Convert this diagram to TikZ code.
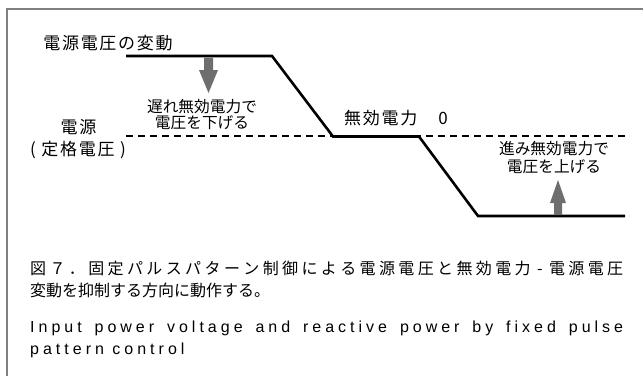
\documentclass[tikz,border=0pt]{standalone}
\usepackage{fontspec}
\setmainfont{Liberation Sans}
\newfontfamily\jp{Noto Sans CJK JP}
\newfontfamily\jpbig{Noto Sans CJK JP}[LetterSpace=10]
\newfontfamily\encap{Liberation Sans}[LetterSpace=25]
\definecolor{framegray}{RGB}{128,128,128}
\definecolor{arrowgray}{RGB}{110,110,110}
\makeatletter
\def\spreadjp#1{\spreadjp@a#1\@nil}
\def\spreadjp@a#1{#1\spreadjp@b}
\def\spreadjp@b#1{\ifx\@nil#1\else\hfil#1\expandafter\spreadjp@b\fi}
\makeatother
\def\jpdash{\hspace{3pt}-\hspace{3pt}}
\begin{document}
\begin{tikzpicture}[x=1pt,y=-1pt,
  biglabel/.style={inner sep=0pt,font=\jpbig\fontsize{17pt}{20pt}\selectfont},
  smalllabel/.style={inner sep=0pt,font=\jp\fontsize{15.7pt}{18pt}\selectfont},
  capjp/.style={inner sep=0pt,anchor=base west,font=\jp\fontsize{16pt}{20pt}\selectfont},
  capen/.style={inner sep=0pt,anchor=base west,font=\encap\fontsize{16pt}{20pt}\selectfont},
  curve/.style={line width=2.6pt,line join=miter},
  ratedline/.style={line width=1.5pt,dash pattern=on 7pt off 5pt},
  blockarrow/.style={fill=arrowgray,draw=none}]
\useasboundingbox (0,0) rectangle (643,376);
% frame
\draw[framegray,line width=1.6pt] (7,376) -- (7,9) -- (643,9);
% dashed rated-voltage line
\coordinate (d1) at (126,136);
\coordinate (d2) at (625,136);
\draw[ratedline] (d1) -- (d2);
% voltage fluctuation curve
\coordinate (p1) at (126,56);
\coordinate (p2) at (272,56);
\coordinate (p3) at (333,136.5);
\coordinate (p4) at (419,136.5);
\coordinate (p5) at (478,216);
\coordinate (p6) at (625,216);
\draw[curve] (p1) -- (p2) -- (p3) -- (p4) -- (p5) -- (p6);
% down arrow
\fill[blockarrow] (204,57.5) -- (213,57.5) -- (213,70) -- (218,70) -- (208.5,93) -- (199,70) -- (204,70) -- cycle;
% up arrow
\fill[blockarrow] (554,215) -- (562,215) -- (562,203) -- (566,203) -- (558,180) -- (550,203) -- (554,203) -- cycle;
% labels
\node[biglabel] (fluct) at (108,43) {電源電圧の変動};
\node[smalllabel] (lag1) at (202,106.7) {遅れ無効電力で};
\node[smalllabel] (lag2) at (202,123) {電圧を下げる};
\node[biglabel] (src1) at (78.5,126.7) {電源};
\node[biglabel] (src2) at (78,150) {( 定格電圧 )};
\node[biglabel,anchor=west] (zero) at (344,117.7) {無効電力\hspace{21pt}0};
\node[smalllabel] (lead1) at (554,149) {進み無効電力で};
\node[smalllabel] (lead2) at (554,166.7) {電圧を上げる};
% caption
\node[capjp] (cap1) at (30,274.5) {\makebox[593pt][s]{\spreadjp{図７．固定パルスパターン制御による電源電圧と無効電力\jpdash 電源電圧}}};
\node[capjp] (cap2) at (30,296.5) {変動を抑制する方向に動作する。};
\node[capen] (cap3) at (30,332) {\makebox[593pt][s]{Input power voltage and reactive power by fixed pulse}};
\node[capen] (cap4) at (30,354) {pattern control};
\end{tikzpicture}
\end{document}
